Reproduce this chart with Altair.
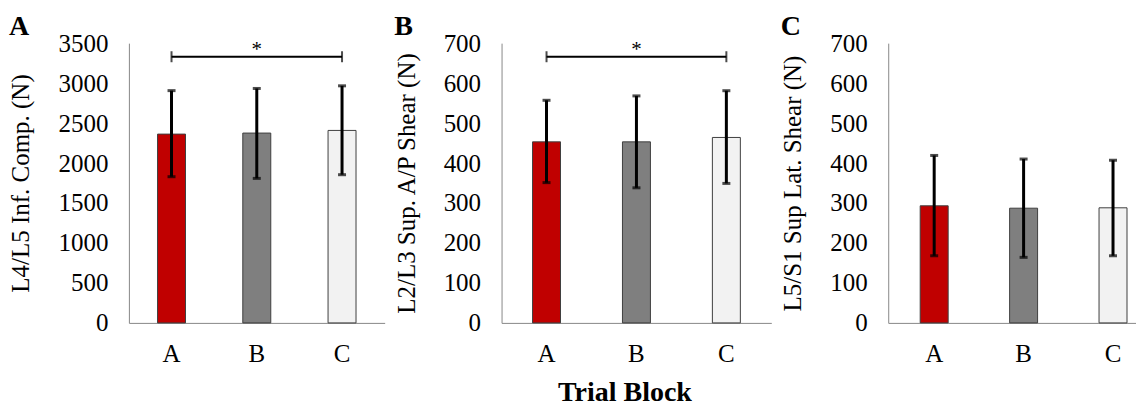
import altair as alt
import pandas as pd

blocks = ["A", "B", "C"]
bar_colors = ["#C00000", "#7F7F7F", "#F2F2F2"]

# Panel A: L4/L5 inferior compression (N)
comp_mean = [2362, 2375, 2408]
comp_lo = [1829, 1808, 1854]
comp_hi = [2906, 2933, 2966]
comp_sig = 3330

# Panel B: L2/L3 superior A/P shear (N)
ap_mean = [453, 453, 464]
ap_lo = [351, 338, 349]
ap_hi = [557, 568, 581]
ap_sig = 666

# Panel C: L5/S1 superior lateral shear (N)
lat_mean = [293, 287, 288]
lat_lo = [168, 164, 168]
lat_hi = [419, 410, 407]

FONT = "Liberation Serif"


def panel(letter, ytitle, mean, lo, hi, ymax, ystep, width, scale_kw,
          sig=None, xtitle=None, title_x=None):
    df = pd.DataFrame({"Block": blocks, "mean": mean, "lo": lo, "hi": hi})
    xaxis_kw = dict(labelAngle=0, labelPadding=19)
    if xtitle:
        xaxis_kw.update(title=xtitle, titleFont=FONT, titleFontSize=28,
                        titleFontWeight="bold", titlePadding=12,
                        titleColor="black")
        if title_x is not None:
            xaxis_kw.update(titleX=title_x)
    else:
        xaxis_kw.update(title=None)
    xscale = alt.Scale(domain=blocks, **scale_kw)
    x = alt.X("Block:N", scale=xscale, axis=alt.Axis(**xaxis_kw))
    yscale = alt.Scale(domain=[0, ymax], nice=False)
    yaxis = alt.Axis(title=ytitle, values=list(range(0, ymax + 1, ystep)),
                     format="d", labelPadding=21, titlePadding=24)

    bars = alt.Chart(df).mark_bar(size=28, stroke="#3f3f3f", strokeWidth=1).encode(
        x=x,
        y=alt.Y("mean:Q", scale=yscale, axis=yaxis),
        color=alt.Color("Block:N", scale=alt.Scale(domain=blocks, range=bar_colors),
                        legend=None),
    )
    err = alt.Chart(df).mark_rule(color="black", strokeWidth=3).encode(
        x=x, y=alt.Y("lo:Q", scale=yscale, axis=yaxis), y2="hi:Q"
    )
    cap_lo = alt.Chart(df).mark_tick(color="black", thickness=3, size=8).encode(
        x=x, y=alt.Y("lo:Q", scale=yscale, axis=yaxis)
    )
    cap_hi = alt.Chart(df).mark_tick(color="black", thickness=3, size=8).encode(
        x=x, y=alt.Y("hi:Q", scale=yscale, axis=yaxis)
    )
    layers = [bars, err, cap_lo, cap_hi]
    if sig is not None:
        sdf = pd.DataFrame({"Block": ["A"], "Block2": ["C"], "y": [sig]})
        edf = pd.DataFrame({"Block": ["A", "C"], "y": [sig, sig]})
        adf = pd.DataFrame({"Block": ["B"], "y": [sig], "t": ["*"]})
        line = alt.Chart(sdf).mark_rule(color="black", strokeWidth=2).encode(
            x=x, x2="Block2:N", y=alt.Y("y:Q", scale=yscale, axis=yaxis)
        )
        ends = alt.Chart(edf).mark_tick(color="black", orient="vertical",
                                        thickness=2, size=11).encode(
            x=x, y=alt.Y("y:Q", scale=yscale, axis=yaxis)
        )
        star = alt.Chart(adf).mark_text(font=FONT, fontSize=21, color="black",
                                        baseline="alphabetic", dy=-1).encode(
            x=x, y=alt.Y("y:Q", scale=yscale, axis=yaxis), text="t:N"
        )
        layers += [line, ends, star]
    return alt.layer(*layers).properties(
        width=width, height=280,
        title=alt.TitleParams(text=letter, anchor="start", frame="bounds",
                              offset=-10, font=FONT, fontSize=28,
                              fontWeight="bold", color="black"),
    )


scale_ab = dict(paddingInner=0, paddingOuter=0)
scale_c = dict(paddingInner=0.486, paddingOuter=0.1285, align=1)

pA = panel("A", "L4/L5 Inf. Comp. (N)", comp_mean, comp_lo, comp_hi,
           3500, 500, 256, scale_ab, sig=comp_sig)
pB = panel("B", "L2/L3 Sup. A/P Shear (N)", ap_mean, ap_lo, ap_hi,
           700, 100, 270, scale_ab, sig=ap_sig, xtitle="Trial Block", title_x=123)
pC = panel("C", "L5/S1 Sup Lat. Shear (N)", lat_mean, lat_lo, lat_hi,
           700, 100, 248, scale_c)

chart = alt.hconcat(pA, pB, pC, spacing=9).properties(
    padding={"left": 1, "top": 5, "right": 0, "bottom": 0}
).configure_axis(
    domainColor="#888888", domainWidth=1, grid=False, ticks=False, tickSize=0,
    labelFont=FONT, labelFontSize=25, labelColor="black",
    titleFont=FONT, titleFontSize=25, titleFontWeight="normal", titleColor="black",
).configure_view(stroke=None).configure_concat(spacing=9)

chart.save("out.html", embed_options={"renderer": "svg", "actions": False})
